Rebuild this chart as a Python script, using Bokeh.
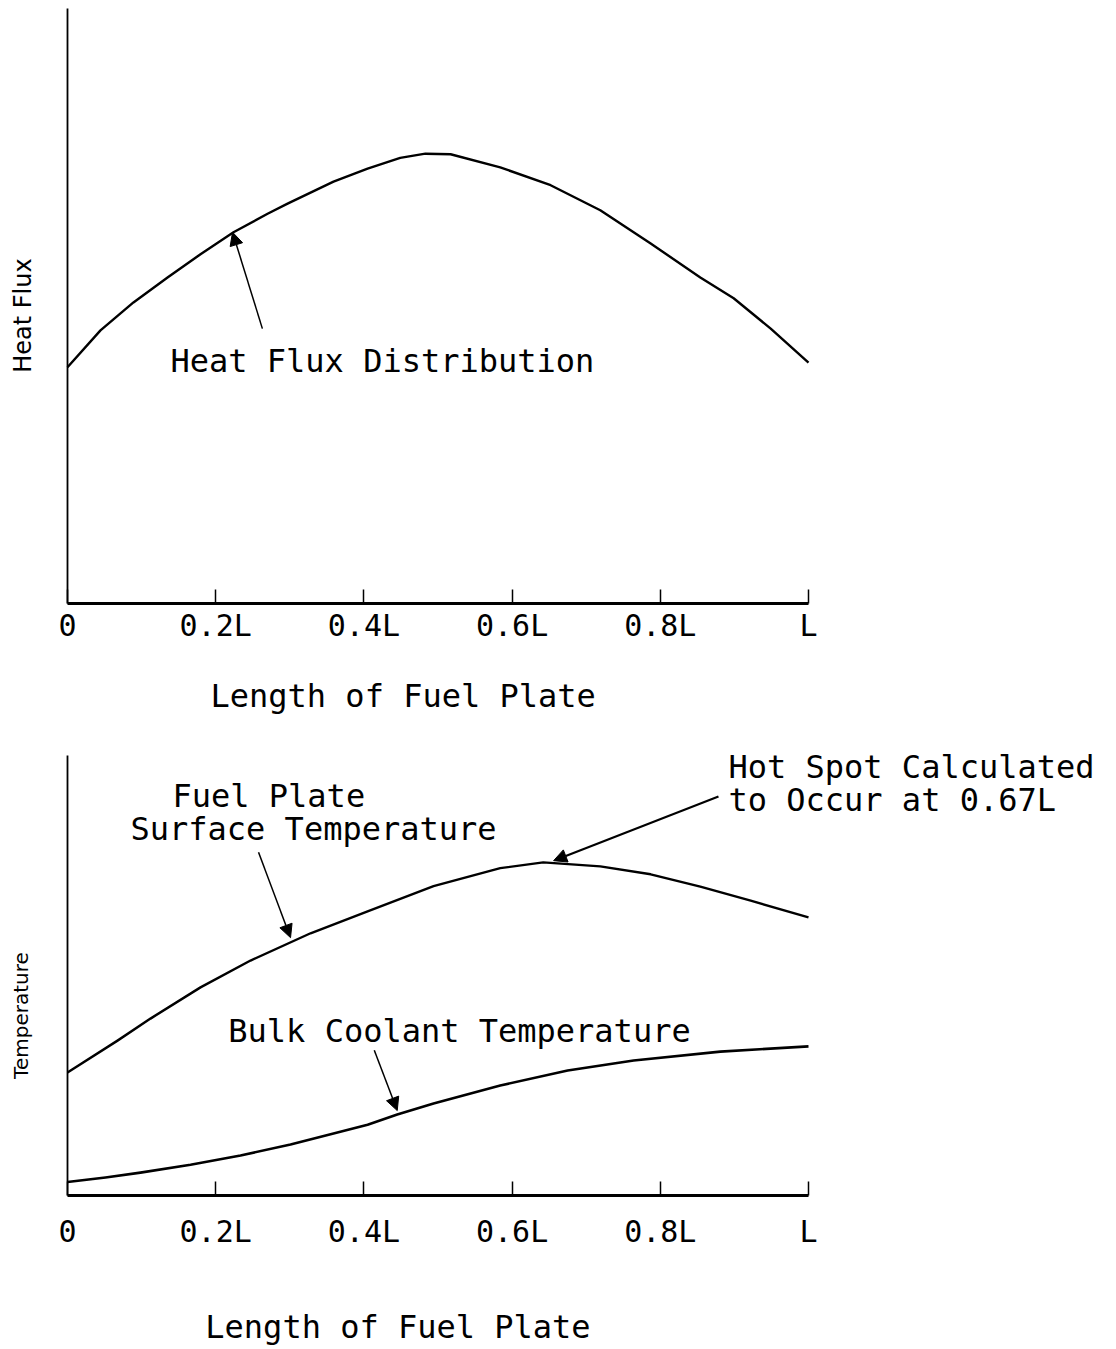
import math
from bokeh.plotting import figure
from bokeh.layouts import column
from bokeh.models import Range1d, FixedTicker, Label, Arrow, NormalHead, LinearAxis
from bokeh.embed import file_html
from bokeh.resources import INLINE

# ---- data (x as fraction of plate length L) ----
tick_positions = [0.0, 0.2, 0.4, 0.6, 0.8, 1.0]
tick_labels = ["0", "0.2L", "0.4L", "0.6L", "0.8L", "L"]

flux_x = [0.0, 0.0445, 0.089, 0.135, 0.1795, 0.224, 0.27, 0.297, 0.359, 0.405, 0.449, 0.483,
          0.517, 0.584, 0.652, 0.719, 0.787, 0.854, 0.899, 0.949, 1.0]
flux_y = [39.7, 45.9, 50.6, 54.8, 58.7, 62.4, 65.5, 67.2, 70.9, 73.1, 74.9, 75.6,
          75.5, 73.3, 70.3, 66.1, 60.5, 54.8, 51.3, 46.2, 40.5]

surf_x = [0.0, 0.0675, 0.112, 0.1795, 0.247, 0.328, 0.405, 0.494, 0.584, 0.642, 0.719, 0.787, 0.854, 0.922, 1.0]
surf_y = [27.95, 35.2, 40.2, 47.3, 53.4, 59.6, 64.6, 70.3, 74.4, 75.7, 74.8, 73.0, 70.2, 67.0, 63.2]

cool_x = [0.0, 0.0513, 0.0985, 0.166, 0.2335, 0.301, 0.359, 0.405, 0.445, 0.494, 0.584, 0.675, 0.764, 0.881, 1.0]
cool_y = [3.07, 4.1, 5.2, 7.0, 9.1, 11.6, 14.1, 16.1, 18.4, 20.9, 25.0, 28.4, 30.7, 32.7, 33.9]

MONO = "DejaVu Sans Mono"
SANS = "DejaVu Sans"
W = 1108


def base_fig(height, y_lo, y_hi, label_standoff):
    p = figure(width=W, height=height, output_backend="svg", toolbar_location=None,
               x_range=Range1d(-67 / 741, (W - 67) / 741), y_range=Range1d(y_lo, y_hi),
               x_axis_location=None, y_axis_location=None, min_border=0)
    p.outline_line_color = None
    p.grid.visible = False
    p.background_fill_color = "white"
    p.border_fill_color = "white"
    xa = LinearAxis(fixed_location=0, bounds=(0, 1),
                    ticker=FixedTicker(ticks=tick_positions),
                    major_label_overrides={t: s for t, s in zip(tick_positions, tick_labels)},
                    major_tick_in=14, major_tick_out=0, minor_tick_line_color=None,
                    major_tick_line_width=1.5, axis_line_width=3,
                    major_label_text_font=MONO, major_label_text_font_size="30px",
                    major_label_text_color="black", major_label_standoff=label_standoff)
    ya = LinearAxis(fixed_location=0, bounds=(0, 100), ticker=FixedTicker(ticks=[]),
                    minor_tick_line_color=None, major_tick_line_color=None,
                    axis_line_width=1.8)
    p.add_layout(xa, "below")
    p.add_layout(ya, "left")
    return p


def add_text(p, x, y, text, size="32px", font=MONO, angle=0.0, align="left"):
    p.add_layout(Label(x=x, y=y, text=text, text_font=font, text_font_size=size,
                       text_color="black", text_baseline="middle", text_align=align,
                       angle=angle))


def add_arrow(p, xs, ys, xe, ye, lw=1.5):
    p.add_layout(Arrow(end=NormalHead(size=13, fill_color="black", line_color="black"),
                       x_start=xs, y_start=ys, x_end=xe, y_end=ye,
                       line_color="black", line_width=lw))


# ---- top panel: heat flux ----
p1 = base_fig(738, (603 - 738) / 5.95, 603 / 5.95, 4)
p1.line(flux_x, flux_y, line_color="black", line_width=2.4, line_join="round")
add_text(p1, 0.139, 40.8, "Heat Flux Distribution")
add_arrow(p1, 0.263, 46.2, 0.2227, 62.4)
add_text(p1, 0.193, -15.5, "Length of Fuel Plate")
add_text(p1, -0.0607, 48.4, "Heat Flux", size="24px", font=SANS, angle=math.pi / 2, align="center")

# ---- bottom panel: temperatures ----
p2 = base_fig(611, (1195 - 1349) / 4.4, (1195 - 738) / 4.4, 18)
p2.line(surf_x, surf_y, line_color="black", line_width=2.4, line_join="round")
p2.line(cool_x, cool_y, line_color="black", line_width=2.6, line_join="round")
add_text(p2, 0.1417, 90.7, "Fuel Plate")
add_text(p2, 0.085, 83.2, "Surface Temperature")
add_arrow(p2, 0.2578, 78.0, 0.301, 58.6)
add_text(p2, 0.892, 97.5, "Hot Spot Calculated")
add_text(p2, 0.892, 89.8, "to Occur at 0.67L")
add_arrow(p2, 0.8785, 90.7, 0.656, 76.1, lw=2.2)
add_text(p2, 0.217, 37.5, "Bulk Coolant Temperature")
add_arrow(p2, 0.414, 33.0, 0.445, 19.3)
add_text(p2, 0.186, -29.8, "Length of Fuel Plate")
add_text(p2, -0.0634, 40.9, "Temperature", size="20px", font=SANS, angle=math.pi / 2, align="center")

layout = column(p1, p2, spacing=0)
open("out.html", "w").write(file_html(layout, INLINE))
